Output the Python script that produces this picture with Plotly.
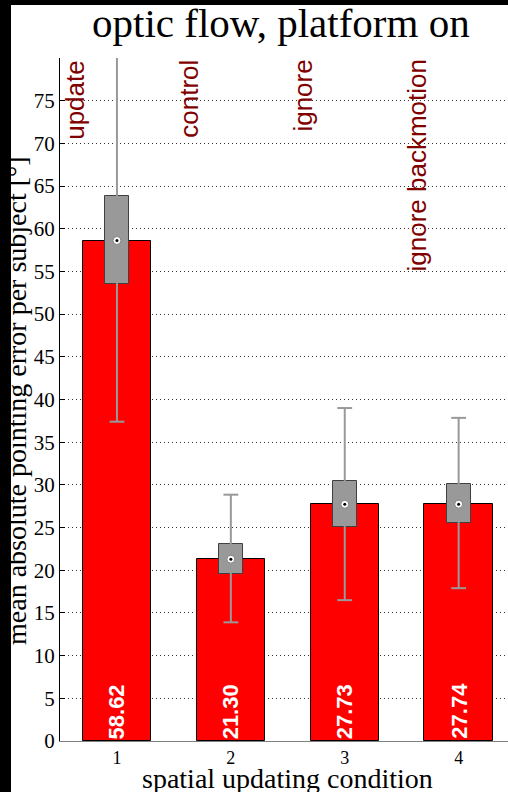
import plotly.graph_objects as go

# ---- data ----
conditions = [1, 2, 3, 4]
condition_names = ["update", "control", "ignore", "ignore backmotion"]
means = [58.62, 21.30, 27.73, 27.74]
se_lo = [53.5, 19.6, 25.1, 25.5]
se_hi = [63.8, 23.1, 30.5, 30.1]
ci_lo = [37.4, 13.9, 16.5, 17.9]
ci_hi = [81.0, 28.85, 39.0, 37.85]
y_ticks = [0, 5, 10, 15, 20, 25, 30, 35, 40, 45, 50, 55, 60, 65, 70, 75]
x_ticks = [1, 2, 3, 4]

W, H = 508, 792
ML, MR, MT, MB = 60, 0, 58, 51
PW, PH = W - ML - MR, H - MT - MB

SERIF = "Liberation Serif, Times New Roman, serif"
SANS = "Liberation Sans, Arial, sans-serif"

fig = go.Figure()

# main red bars
fig.add_trace(go.Bar(
    x=conditions, y=means, width=0.6,
    marker=dict(color="#ff0000", line=dict(color="black", width=1)),
    hoverinfo="skip", showlegend=False))

# gray SE boxes
fig.add_trace(go.Bar(
    x=conditions, y=[h - l for h, l in zip(se_hi, se_lo)], base=se_lo, width=0.21,
    marker=dict(color="#999999", line=dict(color="#404040", width=1)),
    hoverinfo="skip", showlegend=False))

# whiskers with caps
cap = 0.065
wx, wy = [], []
for c, lo, hi in zip(conditions, ci_lo, ci_hi):
    wx += [c, c, None, c - cap, c + cap, None, c - cap, c + cap, None]
    wy += [lo, hi, None, lo, lo, None, hi, hi, None]
fig.add_trace(go.Scatter(x=wx, y=wy, mode="lines",
                         line=dict(color="#999999", width=2),
                         hoverinfo="skip", showlegend=False))

# mean markers
fig.add_trace(go.Scatter(x=conditions, y=means, mode="markers",
                         marker=dict(symbol="circle", size=8, color="white",
                                     line=dict(color="#808080", width=1)),
                         hoverinfo="skip", showlegend=False))
fig.add_trace(go.Scatter(x=conditions, y=means, mode="markers",
                         marker=dict(symbol="circle", size=3, color="black"),
                         hoverinfo="skip", showlegend=False))

annotations = []
# condition labels
for c, name in zip(conditions, condition_names):
    annotations.append(dict(x=c - 0.37, y=80, xref="x", yref="y", text=name,
                            textangle=-90, showarrow=False, xanchor="center",
                            yanchor="top", font=dict(family=SANS, size=26, color="#800000")))
# value labels
for c, m in zip(conditions, means):
    annotations.append(dict(x=c, y=0, xref="x", yref="y", text=f"<b>{m:.2f}</b>",
                            textangle=-90, showarrow=False, xanchor="center",
                            yanchor="bottom", yshift=0,
                            font=dict(family=SANS, size=22, color="white")))
# axis titles
annotations.append(dict(x=(16 - ML) / PW, y=(H - MB - 401) / PH, xref="paper", yref="paper",
                        text="mean absolute pointing error per subject [°]", textangle=-90,
                        showarrow=False, xanchor="center", yanchor="middle",
                        font=dict(family=SERIF, size=28, color="black")))
annotations.append(dict(x=(287.5 - ML) / PW, y=(H - MB - 778) / PH, xref="paper", yref="paper",
                        text="spatial updating condition", showarrow=False,
                        xanchor="center", yanchor="middle",
                        font=dict(family=SERIF, size=28, color="black")))
annotations.append(dict(x=(281 - ML) / PW, y=(H - MB - 23) / PH, xref="paper", yref="paper",
                        text="optic flow, platform on", showarrow=False,
                        xanchor="center", yanchor="middle",
                        font=dict(family=SERIF, size=41, color="black")))

shapes = [
    dict(type="rect", xref="paper", yref="paper", layer="above",
         x0=-ML / PW, x1=(11 - ML) / PW, y0=-MB / PH - 0.01, y1=1 + MT / PH + 0.01,
         fillcolor="black", line=dict(width=0)),
    dict(type="rect", xref="paper", yref="paper", layer="above",
         x0=-ML / PW, x1=1.01, y0=1 + (MT - 5) / PH, y1=1 + MT / PH + 0.01,
         fillcolor="black", line=dict(width=0)),
]

fig.update_layout(
    width=W, height=H, margin=dict(l=ML, r=MR, t=MT, b=MB, pad=0),
    paper_bgcolor="white", plot_bgcolor="white",
    barmode="overlay", bargap=0,
    annotations=annotations, shapes=shapes,
    xaxis=dict(range=[0.5, 0.5 + PW / 113.9], tickvals=x_ticks,
               ticktext=[str(t) for t in x_ticks], showgrid=False, zeroline=False,
               showline=True, linecolor="#808080", linewidth=1, ticks="",
               tickfont=dict(family=SERIF, size=18, color="black")),
    yaxis=dict(range=[0, 80], tickvals=y_ticks, ticktext=[str(t) for t in y_ticks],
               showgrid=True, gridcolor="#333333", griddash="1px,3px", gridwidth=1,
               zeroline=False, showline=True, linecolor="black", linewidth=1,
               ticks="inside", ticklen=5, tickcolor="black",
               tickfont=dict(family=SERIF, size=21, color="black")),
)

fig.write_html("out.html")
